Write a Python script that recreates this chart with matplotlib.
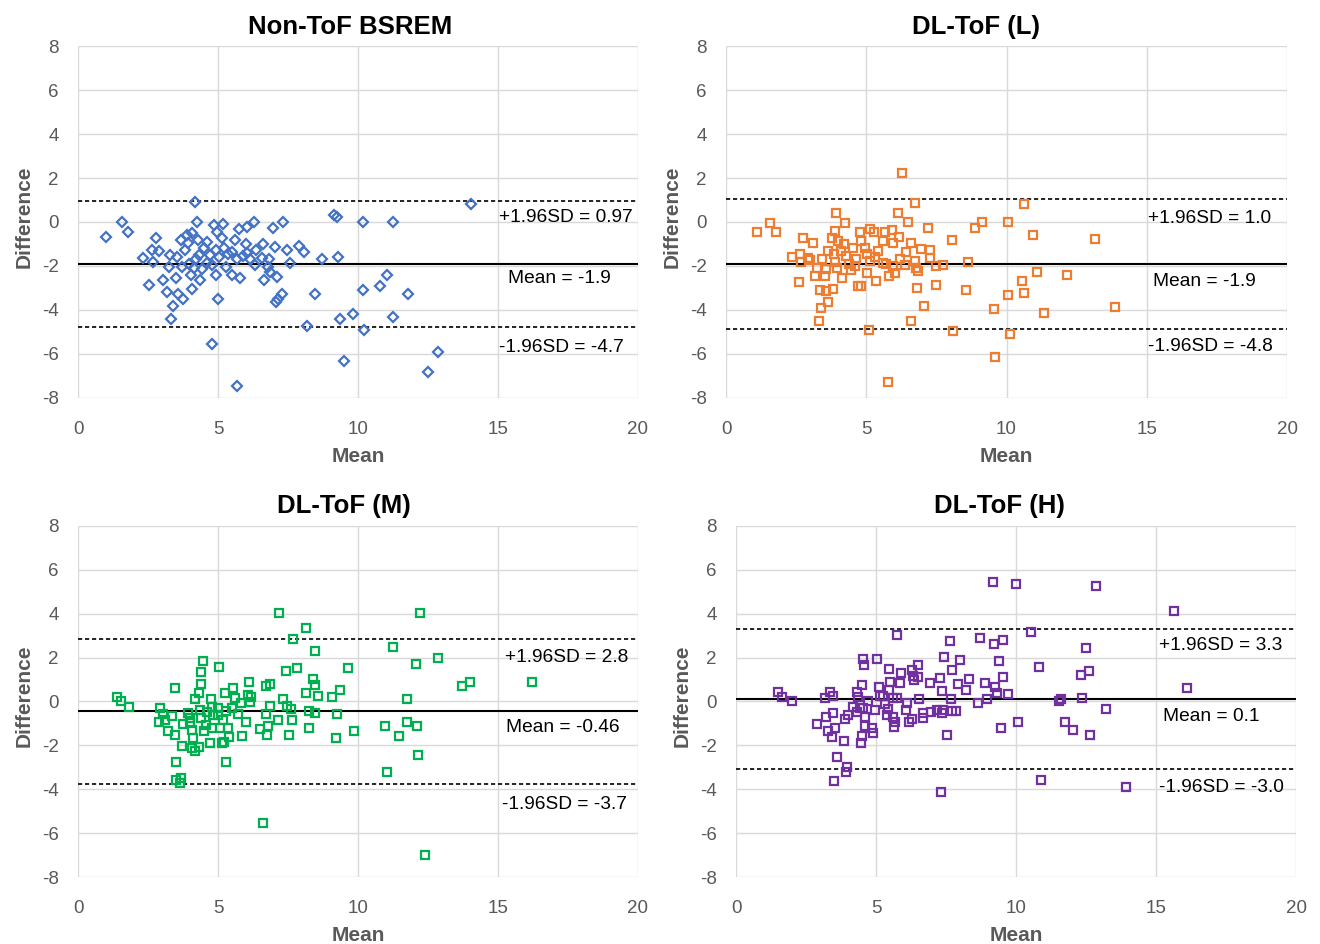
import matplotlib
matplotlib.use('Agg')
import matplotlib.pyplot as plt

plt.rcParams['font.family'] = ['Liberation Sans', 'DejaVu Sans']
plt.rcParams['axes.unicode_minus'] = False

# ---- data ----
nontof_mean = [0.99, 1.58, 1.78, 2.77, 2.33, 2.69, 2.63, 2.90, 2.54, 3.05,
               3.26, 3.19, 3.50, 3.40, 3.33, 3.56, 3.76, 3.52, 3.68, 3.88,
               4.08, 4.18, 4.24, 4.30, 3.93, 3.82, 3.73, 4.04, 4.08, 4.36,
               4.33, 4.15, 4.42, 4.60, 4.71, 4.62, 4.87, 4.95, 4.92, 4.92,
               4.99, 4.80, 5.19, 5.13, 5.21, 5.29, 5.49, 5.61, 5.67, 5.49,
               5.79, 5.76, 6.02, 6.30, 5.99, 5.90, 6.14, 6.32, 6.35, 5.69,
               6.62, 6.56, 6.83, 6.80, 6.86, 6.65, 7.10, 6.98, 7.04, 7.33,
               7.45, 7.57, 7.07, 7.15, 7.30, 7.90, 8.07, 8.19, 8.46, 8.73,
               9.14, 9.24, 9.27, 9.36, 9.50, 9.83, 10.17, 10.17, 10.21, 14.02,
               11.24, 11.05, 10.79, 11.78, 11.24, 12.87, 12.51, 3.30, 3.95, 4.50,
               4.80, 5.35, 6.05, 4.20, 5.05]
nontof_diff = [-0.67, 0.01, -0.44, -0.72, -1.66, -1.81, -1.28, -1.31, -2.85, -2.62,
               -2.04, -3.18, -2.57, -3.84, -4.43, -3.26, -3.49, -1.58, -0.82, -0.59,
               -0.49, 0.90, 0.00, -0.82, -0.97, -1.28, -2.04, -2.42, -3.03, -2.65,
               -1.51, -2.11, -2.16, -0.90, -1.51, -1.89, -0.13, -0.44, -1.28, -2.42,
               -3.52, -5.54, -0.09, -0.73, -1.19, -2.04, -2.42, -0.82, -1.70, -1.35,
               -2.57, -0.33, -0.21, 0.00, -1.00, -1.55, -1.70, -1.96, -1.28, -7.49,
               -1.00, -1.66, -1.70, -2.04, -2.27, -2.65, -2.50, -0.29, -1.13, 0.00,
               -1.28, -1.85, -3.64, -3.49, -3.30, -1.10, -1.35, -4.74, -3.29, -1.70,
               0.33, 0.22, -1.58, -4.43, -6.35, -4.17, -0.02, -3.10, -4.90, 0.82,
               0.00, -2.42, -2.92, -3.26, -4.32, -5.92, -6.83, -1.50, -1.90, -1.20,
               -1.95, -1.45, -1.40, -1.70, -1.60]

low_mean = [1.09, 1.57, 1.80, 2.75, 3.11, 2.37, 2.63, 2.69, 2.91, 2.61,
            3.23, 3.17, 3.34, 3.37, 3.30, 3.64, 3.58, 3.82, 3.52, 3.58,
            3.44, 3.64, 3.85, 3.88, 3.94, 4.12, 3.78, 3.88, 3.93, 4.24,
            4.00, 4.21, 4.29, 4.47, 4.53, 4.63, 4.71, 4.83, 4.77, 4.83,
            4.95, 5.01, 5.01, 5.12, 5.27, 5.12, 5.10, 5.42, 5.60, 5.66,
            5.60, 5.72, 5.36, 5.81, 5.93, 5.95, 6.16, 6.01, 6.13, 6.29,
            6.19, 5.95, 6.37, 6.43, 6.49, 6.61, 6.73, 6.61, 6.73, 6.79,
            6.85, 6.82, 6.96, 7.05, 7.20, 7.26, 7.28, 7.50, 7.50, 7.73,
            8.06, 8.09, 8.54, 8.62, 8.86, 9.13, 9.57, 9.58, 10.05, 10.05,
            10.11, 5.78, 10.62, 10.94, 13.17, 11.09, 12.16, 10.56, 10.64, 11.32,
            13.86, 3.00, 4.40, 4.10, 5.30, 4.60]
low_diff = [-0.46, -0.03, -0.44, -0.73, -0.97, -1.60, -1.45, -1.83, -1.63, -2.73,
            -2.09, -2.47, -3.08, -3.94, -4.50, -3.66, -3.13, -3.04, -2.44, -2.14,
            -1.70, -1.33, -1.48, -1.83, -2.09, -2.54, -0.75, -0.41, 0.43, -0.06,
            -0.87, -1.02, -1.55, -2.17, -1.17, -1.68, -2.90, -2.93, -0.46, -0.87,
            -1.17, -1.45, -2.32, -0.30, -0.46, -1.78, -4.91, -1.33, -0.87, -0.46,
            -1.86, -1.93, -2.67, -2.47, -0.38, -0.94, -0.69, -2.32, 0.40, 2.23,
            -1.70, -2.00, -1.98, -1.36, 0.01, -0.94, 0.87, -4.53, -1.78, -2.09,
            -2.24, -3.01, -1.25, -3.81, -0.26, -1.28, -1.63, -2.00, -2.85, -1.95,
            -0.84, -4.96, -3.08, -1.83, -0.26, 0.01, -3.95, -6.16, 0.00, -3.31,
            -5.09, -7.31, 0.84, -0.59, -0.79, -2.27, -2.41, -2.68, -3.22, -4.15,
            -3.86, -1.75, -1.90, -1.30, -1.60, -2.00]

med_mean = [1.39, 1.55, 1.82, 2.94, 3.04, 2.89, 3.10, 3.36, 3.21, 3.45,
            3.45, 3.49, 3.49, 3.69, 3.63, 3.71, 3.75, 3.93, 3.99, 4.08,
            4.11, 4.08, 4.17, 4.32, 4.17, 4.32, 4.41, 4.38, 4.47, 4.35,
            4.41, 4.50, 4.56, 4.74, 4.80, 4.83, 4.77, 5.01, 5.03, 5.06,
            5.16, 5.18, 5.24, 5.30, 5.36, 5.39, 5.27, 5.20, 5.54, 5.60,
            5.71, 5.83, 5.86, 6.01, 6.07, 6.11, 6.19, 6.13, 6.49, 6.73,
            6.87, 6.73, 6.79, 6.76, 6.85, 7.14, 7.18, 7.32, 7.42, 7.54,
            7.48, 7.62, 7.64, 7.68, 7.82, 8.13, 8.13, 8.25, 8.25, 8.39,
            8.45, 8.45, 8.45, 8.57, 9.08, 9.23, 9.25, 9.35, 9.64, 9.86,
            6.61, 10.95, 11.45, 11.75, 12.11, 11.75, 11.25, 12.08, 12.22, 12.87,
            12.15, 11.02, 13.72, 14.01, 16.23, 12.38, 4.60, 5.00, 4.00, 5.50,
            4.70]
med_diff = [0.22, 0.02, -0.26, -0.28, -0.58, -0.96, -0.87, -0.66, -1.37, -1.53,
            0.63, -2.74, -3.58, -3.50, -3.73, -2.03, -1.02, -0.54, -0.77, -1.30,
            -1.68, -2.13, -2.28, -2.06, 0.11, 0.40, 0.78, 1.36, 1.84, -0.39,
            -0.77, -1.37, -1.07, 0.10, -0.26, -0.64, -1.22, -0.31, 1.58, -1.19,
            -1.91, -0.84, 0.37, -0.46, -1.22, -1.60, -2.74, -1.83, 0.60, 0.14,
            -0.58, -0.08, -1.57, -0.92, 0.29, 0.90, 0.22, -0.05, -1.26, 0.71,
            0.78, -0.57, -1.11, -1.52, -0.21, -0.87, 4.02, 0.10, 1.39, -1.52,
            -0.21, -0.36, -0.84, 2.83, 1.54, 3.36, 0.40, -0.43, -1.22, 1.02,
            0.75, -0.54, 2.30, 0.25, 0.22, -1.68, -0.58, 0.52, 1.51, -1.34,
            -5.52, -1.12, -1.57, -0.95, -1.10, 0.10, 2.47, 1.71, 4.02, 1.97,
            -2.44, -3.22, 0.71, 0.87, 0.89, -6.99, -0.50, -0.60, -1.00, -0.30,
            -1.90]

high_mean = [1.51, 1.66, 1.99, 2.90, 3.20, 3.18, 3.36, 3.45, 3.45, 3.27,
             3.42, 3.54, 3.60, 3.95, 3.92, 3.50, 3.86, 3.89, 3.99, 4.19,
             4.33, 4.31, 4.35, 4.43, 4.51, 4.55, 4.57, 4.55, 4.61, 4.61,
             4.45, 4.49, 4.73, 4.85, 4.88, 4.96, 5.05, 5.12, 5.14, 5.26,
             5.32, 5.38, 5.44, 5.48, 5.50, 5.48, 5.62, 5.65, 5.68, 5.62,
             5.74, 5.74, 5.86, 5.89, 6.10, 6.07, 6.19, 6.27, 6.27, 6.33,
             6.36, 6.51, 6.51, 6.55, 6.67, 6.67, 6.93, 6.95, 7.17, 7.29,
             7.35, 7.35, 7.40, 7.44, 7.55, 7.32, 7.64, 7.68, 7.73, 7.86,
             7.70, 8.00, 7.94, 8.21, 8.32, 8.65, 8.71, 8.90, 8.95, 9.19,
             9.23, 9.26, 9.33, 9.38, 9.45, 9.52, 9.55, 9.73, 10.00, 10.08,
             10.52, 10.83, 10.88, 11.55, 12.86, 15.65, 16.12, 12.50, 12.62, 12.31,
             12.35, 11.61, 13.20, 11.75, 12.02, 12.64, 13.93]
high_diff = [0.41, 0.18, 0.03, -1.04, -0.70, 0.17, 0.43, 0.24, -0.52, -1.34,
             -1.61, -1.20, -2.55, -2.98, -3.20, -3.62, -1.81, -0.82, -0.62, -0.24,
             -0.47, 0.41, 0.18, -0.29, 0.74, 1.95, 1.65, -0.32, -0.70, -1.12,
             -1.88, -1.58, 0.01, -1.20, -1.46, -0.40, 1.95, 0.67, 0.24, 0.24,
             -0.14, -0.62, -0.36, 1.47, 0.89, 0.52, 0.14, -1.18, -0.93, -0.70,
             3.02, 0.17, 0.83, 1.30, -0.06, -0.40, -0.93, -0.80, 1.42, 1.15,
             0.97, 1.65, 1.12, 0.09, -0.55, -0.75, 0.82, -0.47, -0.40, 1.07,
             0.47, -0.55, -0.40, 2.03, -1.54, -4.12, 2.75, 0.13, -0.44, -0.44,
             1.42, 1.88, 0.77, 0.51, 1.00, -0.09, 2.87, 0.85, 0.09, 5.45,
             2.61, 0.66, 0.39, 1.85, -1.23, 2.82, 1.09, 0.35, 5.33, -0.95,
             3.17, 1.58, -3.56, 0.02, 5.25, 4.13, 0.62, 2.44, 1.38, 1.20,
             0.17, 0.09, -0.36, -0.96, -1.31, -1.54, -3.92]

titles = ['Non-ToF BSREM', 'DL-ToF (L)', 'DL-ToF (M)', 'DL-ToF (H)']
bias = [-1.93, -1.90, -0.46, 0.10]
upper_loa = [0.95, 1.05, 2.83, 3.28]
lower_loa = [-4.78, -4.86, -3.76, -3.07]
upper_text = ['+1.96SD = 0.97', '+1.96SD = 1.0', '+1.96SD = 2.8', '+1.96SD = 3.3']
mean_text = ['Mean = -1.9', 'Mean = -1.9', 'Mean = -0.46', 'Mean = 0.1']
lower_text = ['-1.96SD = -4.7', '-1.96SD = -4.8', '-1.96SD = -3.7', '-1.96SD = -3.0']

series_x = [nontof_mean, low_mean, med_mean, high_mean]
series_y = [nontof_diff, low_diff, med_diff, high_diff]
colors = ['#4472C4', '#ED7D31', '#00B050', '#7030A0']
markers = ['D', 's', 's', 's']
msizes = [5.2, 5.2, 5.2, 5.2]

W, H = 1320, 944
# axes boxes in pixels: left, top, right, bottom
boxes = [(78, 46.4, 638, 397.6), (726, 46.4, 1287, 397.6),
         (78, 525.8, 638, 877), (736, 525.8, 1296, 877)]
title_pos = [(350, 34), (976, 34), (344, 513), (999, 513)]
# text anchors (data coords: x, baseline y) for upper / mean / lower labels
text_pos = [[(15.05, 0.01), (15.37, -2.80), (15.05, -5.92)],
            [(15.06, -0.06), (15.21, -2.90), (15.06, -5.86)],
            [(15.24, 1.81), (15.30, -1.38), (15.16, -4.91)],
            [(15.12, 2.34), (15.26, -0.88), (15.12, -4.15)]]

fig = plt.figure(figsize=(W / 100, H / 100), dpi=100)

for i in range(4):
    l, t, r, b = boxes[i]
    ax = fig.add_axes([l / W, 1 - b / H, (r - l) / W, (b - t) / H])
    ax.set_xlim(0, 20)
    ax.set_ylim(-8, 8)
    ax.set_xticks([0, 5, 10, 15, 20])
    ax.set_yticks(range(-8, 9, 2))
    ax.grid(True, color='#d9d9d9', lw=1.0)
    ax.set_axisbelow(True)
    for s in ax.spines.values():
        s.set_visible(False)
    ax.tick_params(length=0, labelsize=13.5, labelcolor='#595959')
    ax.tick_params(axis='y', pad=14)
    ax.tick_params(axis='x', pad=16.5)

    ax.axhline(bias[i], color='black', lw=1.5, zorder=2)
    ax.axhline(upper_loa[i], color='black', lw=1.2, ls=(0, (2.5, 1.7)), zorder=2)
    ax.axhline(lower_loa[i], color='black', lw=1.2, ls=(0, (2.5, 1.7)), zorder=2)

    ax.plot(series_x[i], series_y[i], ls='none', marker=markers[i], ms=msizes[i],
            mfc='none', mec=colors[i], mew=1.6, zorder=3, clip_on=False)

    labels = [upper_text[i], mean_text[i], lower_text[i]]
    for (tx, ty), s in zip(text_pos[i], labels):
        ax.text(tx, ty, s, fontsize=13.8, color='black', ha='left', va='baseline', zorder=4)

    ax.set_xlabel('Mean', fontsize=15, fontweight='bold', color='#595959')
    ax.xaxis.set_label_coords(0.5, -0.183)
    ax.xaxis.label.set_va('baseline')
    ax.set_ylabel('Difference', fontsize=15, fontweight='bold', color='#595959')
    ax.yaxis.set_label_coords(-0.086, 0.515)
    ax.yaxis.label.set_va('baseline')

    fig.text(title_pos[i][0] / W, 1 - title_pos[i][1] / H, titles[i],
             ha='center', va='baseline', fontsize=18.5, fontweight='bold')

fig.savefig('out.png', dpi=100)
